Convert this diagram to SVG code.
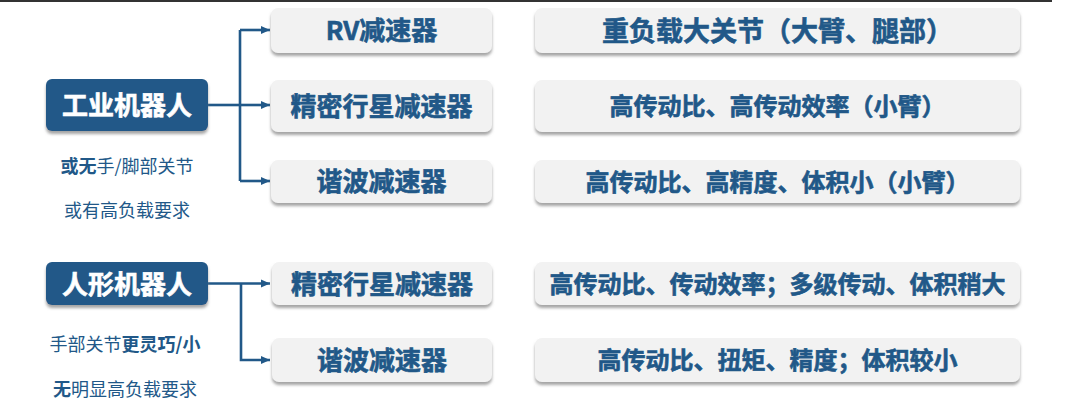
<svg xmlns="http://www.w3.org/2000/svg" width="1080" height="409" viewBox="0 0 1080 409">
<defs>
<filter id="sh" x="-10%" y="-20%" width="120%" height="160%">
<feDropShadow dx="0" dy="3" stdDeviation="1.6" flood-color="#7f7f7f" flood-opacity="0.7"/>
</filter>
<marker id="ah" markerWidth="10" markerHeight="10" refX="9" refY="5" orient="auto" markerUnits="userSpaceOnUse">
<path d="M0,1 L9,5 L0,9 Z" fill="#215888"/>
</marker>
<style>
.t{font-family:"Noto Sans CJK SC","Noto Sans",sans-serif;text-anchor:middle}
.blue{fill:#215888;filter:url(#sh)}
.gray{fill:#f2f2f2;filter:url(#sh)}
.wt{fill:#ffffff;font-weight:700;font-size:26px;stroke:#ffffff;stroke-width:0.6}
.bt{fill:#215888;font-weight:700;stroke:#215888;stroke-width:0.6}
.sub{fill:#215888;font-size:18px;font-weight:400}
.b{font-weight:700}
.c{fill:none;stroke:#215888;stroke-width:2.6}
</style>
</defs>
<rect x="0" y="0" width="1052" height="2" fill="#333333"/>

<g id="connectors">
<path class="c" d="M208,105 H240"/>
<path class="c" d="M240,30 V181"/>
<path class="c" d="M240,30 H270" marker-end="url(#ah)"/>
<path class="c" d="M240,105 H270" marker-end="url(#ah)"/>
<path class="c" d="M240,181 H270" marker-end="url(#ah)"/>
<path class="c" d="M208,283.5 H270" marker-end="url(#ah)"/>
<path class="c" d="M241,283.5 V360 H270" marker-end="url(#ah)"/>
</g>

<g id="industrial">
<rect class="blue" x="46" y="79" width="162" height="52" rx="6"/>
<text class="t wt" x="127" y="115">工业机器人</text>
</g>
<g id="industrial-note">
<text class="t sub" x="127" y="173"><tspan class="b">或无</tspan>手/脚部关节</text>
<text class="t sub" x="127" y="217">或有高负载要求</text>
</g>

<g id="humanoid">
<rect class="blue" x="46" y="262" width="162" height="43" rx="6"/>
<text class="t wt" x="127" y="293.5">人形机器人</text>
</g>
<g id="humanoid-note">
<text class="t sub" x="125" y="351"><tspan>手部关节</tspan><tspan class="b">更灵巧/小</tspan></text>
<text class="t sub" x="125" y="396"><tspan class="b">无</tspan>明显高负载要求</text>
</g>

<g id="rv">
<rect class="gray" x="271" y="8" width="221" height="45" rx="7"/>
<text class="t bt" x="381.5" y="40" font-size="26">RV减速器</text>
</g>
<g id="planetary1">
<rect class="gray" x="271" y="80" width="221" height="52" rx="7"/>
<text class="t bt" x="381.5" y="116" font-size="26">精密行星减速器</text>
</g>
<g id="harmonic1">
<rect class="gray" x="271" y="160" width="221" height="43" rx="7"/>
<text class="t bt" x="381.5" y="191" font-size="26">谐波减速器</text>
</g>
<g id="planetary2">
<rect class="gray" x="272" y="262" width="220" height="43" rx="7"/>
<text class="t bt" x="382" y="293.5" font-size="26">精密行星减速器</text>
</g>
<g id="harmonic2">
<rect class="gray" x="272" y="338" width="220" height="44" rx="7"/>
<text class="t bt" x="382" y="370" font-size="26">谐波减速器</text>
</g>

<g id="desc-rv">
<rect class="gray" x="535" y="8" width="485" height="45" rx="7"/>
<text class="t bt" x="777.5" y="40.5" font-size="27">重负载大关节（大臂、腿部）</text>
</g>
<g id="desc-planetary1">
<rect class="gray" x="535" y="80" width="485" height="52" rx="7"/>
<text class="t bt" x="777.5" y="115" font-size="24">高传动比、高传动效率（小臂）</text>
</g>
<g id="desc-harmonic1">
<rect class="gray" x="535" y="160" width="485" height="43" rx="7"/>
<text class="t bt" x="777.5" y="190.5" font-size="24">高传动比、高精度、体积小（小臂）</text>
</g>
<g id="desc-planetary2">
<rect class="gray" x="535" y="262" width="485" height="43" rx="7"/>
<text class="t bt" x="777.5" y="292.5" font-size="24">高传动比、传动效率；多级传动、体积稍大</text>
</g>
<g id="desc-harmonic2">
<rect class="gray" x="535" y="338" width="485" height="44" rx="7"/>
<text class="t bt" x="777.5" y="369" font-size="24">高传动比、扭矩、精度；体积较小</text>
</g>
</svg>
